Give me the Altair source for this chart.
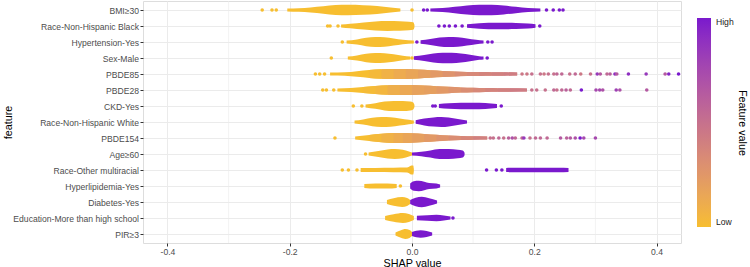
import altair as alt
import pandas as pd

FEATURES = [
    "BMI≥30", "Race-Non-Hispanic Black", "Hypertension-Yes", "Sex-Male",
    "PBDE85", "PBDE28", "CKD-Yes", "Race-Non-Hispanic White", "PBDE154",
    "Age≥60", "Race-Other multiracial", "Hyperlipidemia-Yes", "Diabetes-Yes",
    "Education-More than high school", "PIR≥3",
]
LOW_COLOR = "#F7BE30"
HIGH_COLOR = "#7A19CD"
X_TICKS = [-0.4, -0.2, 0.0, 0.2, 0.4]
X_MINOR = [-0.3, -0.1, 0.1, 0.3]

# dense part of the swarm, low feature value (x = SHAP value, w = half thickness in px)
LOW_X = {
    "BMI≥30": [-0.204, -0.185, -0.166, -0.145, -0.125, -0.105, -0.08, -0.057, -0.035, -0.019],
    "Race-Non-Hispanic Black": [-0.116, -0.101, -0.079, -0.06, -0.04, -0.02, -0.005, 0.002, 0.004],
    "Hypertension-Yes": [-0.107, -0.09, -0.075, -0.06, -0.045, -0.03, -0.015, 0.003],
    "Sex-Male": [-0.105, -0.09, -0.075, -0.06, -0.045, -0.03, -0.015, -0.003],
    "CKD-Yes": [-0.076, -0.06, -0.045, -0.03, -0.015, -0.003, 0.002, 0.004],
    "Race-Non-Hispanic White": [-0.094, -0.08, -0.065, -0.05, -0.035, -0.02, -0.005, 0.003],
    "Age≥60": [-0.071, -0.055, -0.04, -0.028, -0.015, -0.005, 0.0],
    "Race-Other multiracial": [-0.084, -0.06, -0.03, -0.008, -0.003, -0.001, 0.002, 0.003],
    "Hyperlipidemia-Yes": [-0.078, -0.06, -0.04, -0.025],
    "Diabetes-Yes": [-0.041, -0.03, -0.016, -0.008, -0.003],
    "Education-More than high school": [-0.044, -0.03, -0.015, -0.005, 0.003],
    "PIR≥3": [-0.027, -0.018, -0.011, -0.004, 0.0],
}
LOW_W = {
    "BMI≥30": [1.4, 1.8, 2.6, 3.8, 5.0, 5.2, 4.8, 4.0, 2.6, 1.4],
    "Race-Non-Hispanic Black": [1.4, 2.2, 3.6, 4.6, 4.9, 4.8, 4.3, 3.8, 1.2],
    "Hypertension-Yes": [1.4, 2.6, 4.2, 4.9, 4.7, 3.6, 2.2, 1.4],
    "Sex-Male": [1.4, 2.6, 4.2, 5.0, 4.8, 3.8, 2.2, 1.4],
    "CKD-Yes": [1.4, 2.8, 4.4, 5.0, 5.0, 4.4, 3.4, 1.0],
    "Race-Non-Hispanic White": [1.4, 2.6, 4.2, 5.0, 4.8, 3.6, 2.2, 1.4],
    "Age≥60": [1.4, 3.0, 4.6, 5.0, 4.2, 2.6, 1.4],
    "Race-Other multiracial": [1.9, 2.1, 2.3, 2.4, 3.9, 4.6, 4.6, 1.2],
    "Hyperlipidemia-Yes": [1.9, 2.6, 2.5, 1.9],
    "Diabetes-Yes": [1.9, 3.8, 5.0, 3.9, 2.1],
    "Education-More than high school": [2.1, 3.8, 5.0, 3.9, 1.9],
    "PIR≥3": [1.6, 3.8, 5.0, 3.9, 2.1],
}
HIGH_X = {
    "BMI≥30": [0.030, 0.05, 0.07, 0.09, 0.11, 0.13, 0.15, 0.17, 0.19, 0.21],
    "Race-Non-Hispanic Black": [0.090, 0.11, 0.14, 0.17, 0.19, 0.202],
    "Hypertension-Yes": [0.014, 0.03, 0.045, 0.06, 0.075, 0.09, 0.105, 0.117],
    "Sex-Male": [0.003, 0.02, 0.035, 0.05, 0.065, 0.08, 0.095, 0.11, 0.117],
    "CKD-Yes": [0.044, 0.06, 0.08, 0.10, 0.12, 0.139],
    "Race-Non-Hispanic White": [0.006, 0.02, 0.035, 0.048, 0.06, 0.075, 0.090],
    "Age≥60": [0.0, 0.015, 0.03, 0.045, 0.06, 0.075, 0.083, 0.086],
    "Race-Other multiracial": [0.154, 0.18, 0.21, 0.24, 0.256],
    "Hyperlipidemia-Yes": [-0.003, 0.003, 0.011, 0.02, 0.028, 0.04, 0.046],
    "Diabetes-Yes": [-0.003, 0.006, 0.016, 0.028, 0.041],
    "Education-More than high school": [0.008, 0.025, 0.04, 0.052, 0.063],
    "PIR≥3": [0.0, 0.007, 0.014, 0.024, 0.033],
}
HIGH_W = {
    "BMI≥30": [1.4, 2.0, 3.2, 4.6, 5.2, 5.2, 4.4, 3.2, 2.0, 1.4],
    "Race-Non-Hispanic Black": [1.8, 2.8, 3.3, 3.1, 2.6, 1.8],
    "Hypertension-Yes": [1.8, 3.0, 4.4, 5.0, 4.8, 3.6, 2.2, 1.4],
    "Sex-Male": [1.8, 3.0, 4.4, 5.2, 5.2, 4.4, 3.2, 1.8, 1.4],
    "CKD-Yes": [2.0, 2.8, 3.3, 3.3, 2.9, 2.0],
    "Race-Non-Hispanic White": [1.8, 3.4, 4.6, 5.0, 4.4, 2.9, 1.4],
    "Age≥60": [1.4, 2.2, 3.6, 5.0, 4.9, 4.3, 3.4, 1.2],
    "Race-Other multiracial": [2.1, 2.3, 2.3, 2.2, 1.9],
    "Hyperlipidemia-Yes": [2.6, 4.8, 5.2, 4.2, 3.0, 2.6, 1.6],
    "Diabetes-Yes": [2.1, 4.3, 5.2, 3.8, 1.6],
    "Education-More than high school": [2.2, 2.8, 3.2, 2.5, 1.6],
    "PIR≥3": [2.1, 3.3, 3.8, 3.0, 1.6],
}
# isolated points of the binary features
DOT_LOW = {
    "BMI≥30": [-0.245, -0.229, -0.222, 0.0],
    "Race-Non-Hispanic Black": [-0.138, -0.134, -0.121],
    "Hypertension-Yes": [-0.114],
    "Sex-Male": [-0.132, 0.0],
    "CKD-Yes": [-0.096, -0.082],
    "Age≥60": [-0.076],
    "Race-Other multiracial": [-0.114, -0.104, -0.090],
    "Hyperlipidemia-Yes": [-0.019],
}
DOT_HIGH = {
    "BMI≥30": [0.019, 0.025, 0.220, 0.231, 0.241, 0.247],
    "Race-Non-Hispanic Black": [0.044, 0.053, 0.061, 0.071, 0.082, 0.209],
    "Hypertension-Yes": [0.008, 0.124, 0.131],
    "Sex-Male": [0.123],
    "CKD-Yes": [0.034, 0.038, 0.146],
    "Race-Other multiracial": [0.122, 0.138, 0.147],
    "Education-More than high school": [0.067],
}
# continuous features: dense band with a colour (0 = low, 1 = high) along it
GRAD_X = {
    "PBDE85": [-0.134, -0.11, -0.09, -0.07, -0.05, -0.03, -0.01, 0.01, 0.03, 0.05, 0.07, 0.09, 0.11, 0.13, 0.15, 0.172],
    "PBDE28": [-0.122, -0.10, -0.08, -0.06, -0.04, -0.02, 0.0, 0.02, 0.04, 0.06, 0.08, 0.10, 0.12, 0.14, 0.16, 0.188],
    "PBDE154": [-0.093, -0.07, -0.05, -0.03, -0.015, 0.0, 0.02, 0.04, 0.06, 0.08, 0.10, 0.123],
}
GRAD_W = {
    "PBDE85": [1.4, 1.7, 2.8, 3.9, 4.7, 5.1, 5.0, 4.4, 3.7, 3.0, 2.4, 2.1, 1.9, 1.8, 1.7, 1.5],
    "PBDE28": [1.4, 2.0, 3.1, 4.1, 4.8, 5.1, 5.0, 4.4, 3.8, 3.2, 2.6, 2.2, 1.9, 1.8, 1.7, 1.5],
    "PBDE154": [1.5, 3.0, 4.2, 4.9, 5.1, 4.8, 4.1, 3.2, 2.4, 2.0, 1.7, 1.5],
}
GRAD_C = {
    "PBDE85": [0.0, 0.0, 0.0, 0.03, 0.08, 0.12, 0.16, 0.2, 0.24, 0.28, 0.32, 0.35, 0.38, 0.4, 0.42, 0.44],
    "PBDE28": [0.0, 0.0, 0.02, 0.05, 0.1, 0.14, 0.18, 0.2, 0.24, 0.28, 0.32, 0.35, 0.38, 0.4, 0.43, 0.46],
    "PBDE154": [0.0, 0.03, 0.08, 0.12, 0.16, 0.2, 0.24, 0.28, 0.32, 0.36, 0.4, 0.44],
}
GRAD_DOT_X = {
    "PBDE85": [-0.158, -0.151, -0.143, 0.180, 0.188, 0.196, 0.210, 0.216, 0.223, 0.232, 0.237, 0.245, 0.258,
               0.267, 0.276, 0.292, 0.303, 0.308, 0.319, 0.324, 0.332, 0.335, 0.354, 0.383, 0.414, 0.420, 0.436],
    "PBDE28": [-0.146, -0.140, -0.128, 0.196, 0.204, 0.218, 0.232, 0.237, 0.245, 0.252, 0.259, 0.277,
               0.301, 0.307, 0.312, 0.334, 0.340, 0.384],
    "PBDE154": [-0.126, 0.128, 0.133, 0.142, 0.150, 0.158, 0.164, 0.169, 0.180, 0.183, 0.193, 0.202,
                0.210, 0.221, 0.243, 0.253, 0.259, 0.267, 0.275, 0.281, 0.300],
}
GRAD_DOT_C = {
    "PBDE85": [0, 0, 0, 0.45, 0.45, 0.5, 0.5, 0.45, 0.5, 0.5, 0.55, 0.55, 0.5,
               0.55, 0.45, 0.5, 0.85, 0.65, 0.55, 0.6, 0.9, 0.65, 0.9, 0.85, 0.65, 0.95, 1.0],
    "PBDE28": [0, 0, 0, 0.5, 0.5, 0.5, 0.55, 0.5, 0.55, 0.6, 0.55, 1.0,
               0.75, 0.75, 0.7, 0.8, 0.7, 0.65],
    "PBDE154": [0, 0.5, 0.5, 0.55, 0.5, 0.6, 0.7, 0.55, 0.55, 0.85, 0.5, 0.55,
                0.55, 0.55, 0.65, 0.6, 0.65, 0.7, 1.0, 0.75, 0.75],
}

PX_PER_ROW = 16.0
band_rows, dot_rows = [], []


def add_band(i, name, xs, ws, cs):
    """Split a band into pieces of constant colour; each piece runs one knot
    into the next piece so that no gap shows between neighbouring pieces."""
    n = len(xs)
    k, cid = 0, 0
    while k < n - 1:
        j = k
        while j + 1 < n - 1 and cs[j + 1] == cs[k]:
            j += 1
        last = min(j + 2, n - 1)
        for m in range(k, last + 1):
            band_rows.append(dict(band=f"{i:02d}-{name}-{cid:02d}", x=xs[m],
                                  y=i - ws[m] / PX_PER_ROW, y2=i + ws[m] / PX_PER_ROW, c=cs[k]))
        cid += 1
        k = j + 1


for i, f in enumerate(FEATURES):
    if f in GRAD_X:
        add_band(i, "g", GRAD_X[f], GRAD_W[f], GRAD_C[f])
        for x, c in zip(GRAD_DOT_X[f], GRAD_DOT_C[f]):
            dot_rows.append(dict(row=i, x=x, c=c))
    else:
        add_band(i, "L", LOW_X[f], LOW_W[f], [0.0] * len(LOW_X[f]))
        add_band(i, "H", HIGH_X[f], HIGH_W[f], [1.0] * len(HIGH_X[f]))
        for x in DOT_LOW.get(f, []):
            dot_rows.append(dict(row=i, x=x, c=0.0))
        for x in DOT_HIGH.get(f, []):
            dot_rows.append(dict(row=i, x=x, c=1.0))

bands = pd.DataFrame(band_rows)
dots = pd.DataFrame(dot_rows)

x_scale = alt.Scale(domain=[-0.44, 0.44], nice=False, zero=False)
y_scale = alt.Scale(domain=[-0.5625, 14.5625], reverse=True, nice=False, zero=False)
c_scale = alt.Scale(domain=[0, 1], range=[LOW_COLOR, HIGH_COLOR], interpolate="lab")

label_array = "[" + ",".join("'" + f + "'" for f in FEATURES) + "]"

x_axis = alt.Axis(
    values=X_TICKS, title="SHAP value", grid=True, gridColor="#EBEBEB", gridWidth=1,
    labelExpr="datum.value < 0 ? '-' + format(-datum.value, '.1f') : format(datum.value, '.1f')",
    labelColor="#4D4D4D", labelFontSize=8.6, labelPadding=1.5, tickColor="#333333", tickSize=3,
    domain=False, titleFontSize=10.8, titleFontWeight="normal", titleColor="#000000",
    titleY=20, titleBaseline="middle",
)
y_axis = alt.Axis(
    values=list(range(len(FEATURES))), title="feature", grid=True, gridColor="#EBEBEB", gridWidth=1,
    labelExpr=label_array + "[datum.value]", labelColor="#4D4D4D", labelFontSize=8.6,
    labelPadding=1.5, tickColor="#333333", tickSize=3, domain=False,
    titleFontSize=10.8, titleFontWeight="normal", titleColor="#000000",
    titleX=-135, titleY=121, titleBaseline="middle", titleAngle=-90,
)
legend = alt.Legend(
    type="gradient",
    title="Feature value", orient="none", legendX=554, legendY=17, direction="vertical",
    gradientLength=209, gradientThickness=14, gradientStrokeWidth=0,
    titleOrient="right", titleAnchor="middle", titlePadding=3,
    labelOffset=5, labelExpr="datum.value == 1 ? 'High' : datum.value == 0 ? 'Low' : ''",
    tickCount=1,
    labelFontSize=8.6, labelColor="#1A1A1A", titleFontSize=10.8, titleFontWeight="normal",
    titleColor="#000000",
)

minor = alt.Chart(pd.DataFrame({"x": X_MINOR})).mark_rule(color="#EBEBEB", strokeWidth=0.6).encode(
    x=alt.X("x:Q", scale=x_scale, axis=x_axis)
)

areas = alt.Chart(bands).mark_area(interpolate="monotone", orient="vertical").encode(
    x=alt.X("x:Q", scale=x_scale, axis=x_axis),
    y=alt.Y("y:Q", scale=y_scale, axis=y_axis, stack=None),
    y2="y2:Q",
    color=alt.Color("c:Q", scale=c_scale, legend=legend),
    detail="band:N",
)

points = alt.Chart(dots).mark_circle(size=13, opacity=1).encode(
    x=alt.X("x:Q", scale=x_scale, axis=x_axis),
    y=alt.Y("row:Q", scale=y_scale, axis=y_axis),
    color=alt.Color("c:Q", scale=c_scale, legend=legend),
)

chart = alt.layer(minor, areas, points).properties(
    width=538, height=242,
    autosize=alt.AutoSizeParams(type="none"),
    padding={"left": 143, "top": 1, "right": 69, "bottom": 24},
    background="white",
).configure_view(stroke="#666666", strokeWidth=1).configure(font="Liberation Sans")

chart.save("out.html", embed_options={"renderer": "svg", "actions": False})
